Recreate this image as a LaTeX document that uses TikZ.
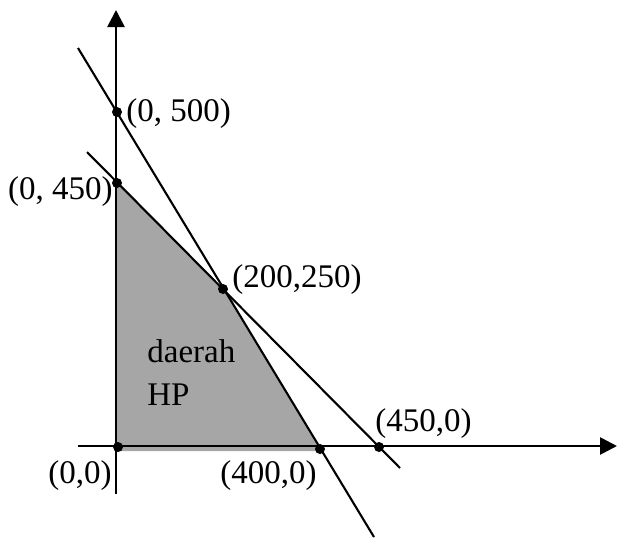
\documentclass[tikz,border=0pt]{standalone}
\usepackage{fontspec}
\setmainfont{Liberation Serif}
\usetikzlibrary{arrows.meta}
\definecolor{hpgray}{RGB}{166,166,166}
\begin{document}
\begin{tikzpicture}[x=0.5pt,y=-0.5pt,
    dot/.style={circle,fill,inner sep=0pt,minimum size=5pt},
    lbl/.style={inner sep=0pt,font=\fontsize{16.5}{21.5}\selectfont},
    axis/.style={line width=1.35pt,-{Triangle[length=8.5pt,width=8.5pt]}},
    garis/.style={line width=1.05pt}]
  \useasboundingbox (0,0) rectangle (617,537);
  % daerah HP
  \fill [hpgray] (117,183) -- (223,289) -- (321,451) -- (116,451) -- cycle;
  \node [lbl,anchor=base west] (daerah) at (147,362) {daerah};
  \node [lbl,anchor=base west] (hp) at (147,405) {HP};
  % sumbu
  \coordinate (xa) at (78,446);   \coordinate (xb) at (617,446);
  \coordinate (ya) at (116,494);  \coordinate (yb) at (116,10);
  \draw [axis] (xa) -- (xb);
  \draw [axis] (ya) -- (yb);
  % garis batas
  \coordinate (g1a) at (78,48);   \coordinate (g1b) at (374,537);
  \coordinate (g2a) at (87,152);  \coordinate (g2b) at (400,468);
  \draw [garis] (g1a) -- (g1b);
  \draw [garis] (g2a) -- (g2b);
  % titik
  \node [dot] (o)    at (118,447) {};
  \node [dot] (a500) at (117,112) {};
  \node [dot] (a450) at (117,183) {};
  \node [dot] (c)    at (223,289) {};
  \node [dot] (b400) at (320,449) {};
  \node [dot] (b450) at (379,447) {};
  \node [lbl,anchor=base west] at (126,121) {(0, 500)};
  \node [lbl,anchor=base east] at (113,199) {(0, 450)};
  \node [lbl,anchor=base west] at (232,287) {(200,250)};
  \node [lbl,anchor=base west] at (375,431) {(450,0)};
  \node [lbl,anchor=base east] at (317,483) {(400,0)};
  \node [lbl,anchor=base east] at (112,483) {(0,0)};
\end{tikzpicture}
\end{document}
